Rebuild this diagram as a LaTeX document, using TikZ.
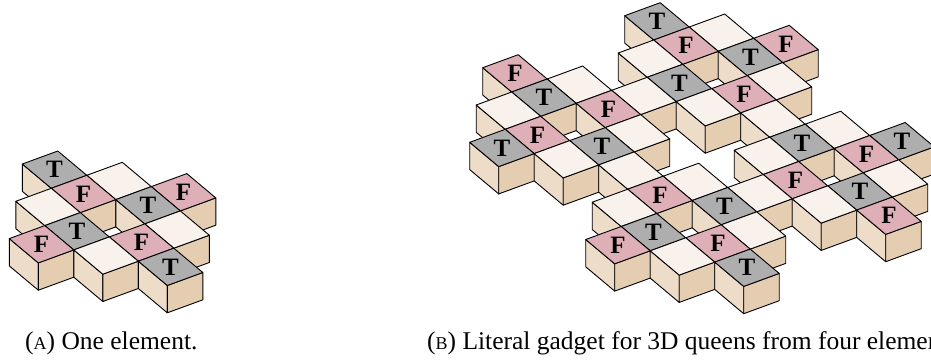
\documentclass[tikz,border=0pt]{standalone}
\usepackage{fontspec}
\setmainfont{Liberation Serif}
\definecolor{faceL}{HTML}{EDDCC8}
\definecolor{faceR}{HTML}{E5CDB2}
\definecolor{tileW}{HTML}{F8F1EC}
\definecolor{tileF}{HTML}{DFAFB8}
\definecolor{tileT}{HTML}{AEAEAE}
\tikzset{
  edgeline/.style={draw=black,line width=0.9pt,line join=round},
  lattice/.style={x={(29pt,-24.3pt)},y={(35.5pt,13pt)},z={(0pt,-27.3pt)}},
  tilelabel/.style={font=\fontsize{25}{25}\selectfont\bfseries,inner sep=0pt,text=black},
  caption/.style={font=\fontsize{25.5}{25.5}\selectfont,inner sep=0pt,anchor=base west,text=black}
}
\def\emptyTile{W}
\newcommand{\cube}[4]{% prefix, i, j, kind
  \fill[faceL,edgeline] (#2,#3)--(#2+1,#3)--(#2+1,#3,1)--(#2,#3,1)--cycle;
  \fill[faceR,edgeline] (#2+1,#3)--(#2+1,#3+1)--(#2+1,#3+1,1)--(#2+1,#3,1)--cycle;
  \fill[tile#4,edgeline] (#2,#3)--(#2,#3+1)--(#2+1,#3+1)--(#2+1,#3)--cycle;
  \edef\kindNow{#4}%
  \ifx\kindNow\emptyTile\else
    \node[tilelabel] (#1-#2-#3) at (#2+.5,#3+.5) {#4};
  \fi
}
\begin{document}
\begin{tikzpicture}[x=1pt,y=1pt]
\useasboundingbox (0,0) rectangle (931,-360);
\clip (0,0) rectangle (931,-360);
\begin{scope}[shift={(22.3pt,-164pt)},lattice]
\foreach \i/\j/\k in {0/0/T,1/1/W,2/2/F,1/0/F,2/1/T,1/-1/W,3/1/W,2/-1/T,3/0/F,2/-2/F,3/-1/W,4/0/T}
  {\cube{a}{\i}{\j}{\k}}
\end{scope}
\begin{scope}[shift={(482.7pt,-67.7pt)},lattice]
\foreach \i/\j/\k in {0/4/T,1/5/W,2/6/F,1/4/F,2/5/T,1/3/W,3/5/W,2/3/T,3/4/F,
  0/0/F,1/1/W,2/2/W,3/3/W,4/4/W,5/5/W,6/6/T,1/0/T,2/1/F,5/4/T,6/5/F,
  1/-1/W,3/1/W,5/3/W,7/5/W,2/-1/F,3/0/T,6/3/F,7/4/T,
  2/-2/T,3/-1/W,4/0/W,5/1/W,6/2/W,7/3/W,8/4/F,5/0/F,6/1/T,
  5/-1/W,7/1/W,6/-1/T,7/0/F,6/-2/F,7/-1/W,8/0/T}
  {\cube{b}{\i}{\j}{\k}}
\end{scope}
\node[caption] (capA) at (25,-349.3) {({\fontsize{18}{18}\selectfont A}) One element.};
\node[caption] (capB) at (427,-349.3) {({\fontsize{18}{18}\selectfont B}) Literal gadget for 3D queens from four elements.};
\end{tikzpicture}
\end{document}
